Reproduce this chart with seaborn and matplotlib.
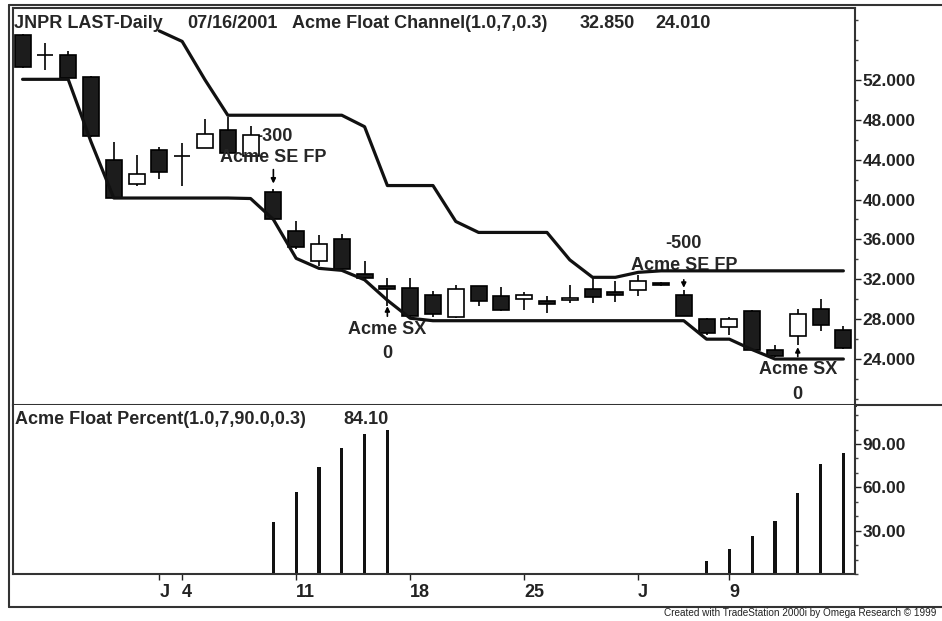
import numpy as np
import pandas as pd
import matplotlib
matplotlib.use("Agg")
import matplotlib.pyplot as plt
import seaborn as sns
from matplotlib.ticker import MultipleLocator, FormatStrFormatter
from matplotlib.lines import Line2D

# trading days shown on the chart (2001)
trade_days = ["05/23", "05/24", "05/25", "05/29", "05/30", "05/31", "06/01",
              "06/04", "06/05", "06/06", "06/07", "06/08",
              "06/11", "06/12", "06/13", "06/14", "06/15",
              "06/18", "06/19", "06/20", "06/21", "06/22",
              "06/25", "06/26", "06/27", "06/28", "06/29",
              "07/02", "07/03", "07/05", "07/06",
              "07/09", "07/10", "07/11", "07/12", "07/13", "07/16"]

open_ = [56.5, 54.5, 54.5, 52.3, 44.0, 41.6, 45.0, 44.4, 45.2, 47.0, 44.4,
         40.8, 36.8, 33.8, 36.0, 32.55, 31.35, 31.1, 30.45, 28.2, 31.3, 30.3,
         30.0, 29.8, 29.95, 31.05, 30.7, 30.95, 31.6, 30.45, 28.0, 27.25,
         28.8, 24.95, 26.3, 29.0, 26.95]
high = [56.6, 55.7, 54.9, 52.4, 45.8, 44.5, 45.3, 45.7, 48.05, 48.3, 47.4,
        41.1, 37.8, 36.45, 36.55, 33.85, 32.1, 32.1, 30.85, 31.45, 31.35, 31.2,
        30.7, 30.3, 31.45, 32.3, 31.8, 32.45, 31.7, 30.9, 28.1, 28.25,
        28.9, 25.45, 29.0, 30.0, 27.35]
low = [53.2, 53.0, 52.1, 46.3, 40.1, 41.4, 42.1, 41.4, 45.2, 44.6, 44.3,
       37.9, 35.0, 33.3, 32.9, 31.9, 29.3, 28.1, 28.2, 28.1, 29.35, 28.85,
       28.9, 28.6, 29.6, 29.6, 29.7, 30.3, 31.3, 28.3, 26.4, 26.4,
       24.9, 24.2, 25.4, 26.8, 25.0]
close = [53.3, 54.5, 52.2, 46.4, 40.2, 42.6, 42.8, 44.4, 46.55, 44.65, 46.5,
         38.0, 35.2, 35.55, 33.0, 32.1, 31.0, 28.3, 28.5, 31.05, 29.85, 28.9,
         30.45, 29.5, 30.1, 30.2, 30.45, 31.8, 31.4, 28.35, 26.6, 28.0,
         24.95, 24.3, 28.5, 27.45, 25.1]

upper_channel = [np.nan, np.nan, np.nan, np.nan, np.nan, np.nan, 56.9,
                 55.85, 52.0, 48.45, 48.45, 48.45, 48.45, 48.45, 48.45, 47.3,
                 41.4, 41.4, 41.4, 37.8, 36.7, 36.7, 36.7, 36.7, 33.95, 32.2,
                 32.2, 32.7, 32.85, 32.85, 32.85, 32.85, 32.85, 32.85, 32.85,
                 32.85, 32.85]
lower_channel = [52.05, 52.05, 52.05, 45.8, 40.15, 40.15, 40.15, 40.15, 40.15,
                 40.15, 40.1, 38.0, 34.1, 33.1, 32.9, 31.95, 29.9, 28.1, 27.85,
                 27.85, 27.85, 27.85, 27.85, 27.85, 27.85, 27.85, 27.85, 27.85,
                 27.85, 27.85, 26.0, 26.0, 24.95, 24.01, 24.01, 24.01, 24.01]

float_pct = [0, 0, 0, 0, 0, 0, 0, 0, 0, 0, 0,
             36, 57, 74, 87, 97, 100,
             0, 0, 0, 0, 0, 0, 0, 0, 0, 0, 0, 0, 0,
             9, 17, 26, 37, 56, 76, 84.1]

date_ticks = {"06/01": "J", "06/04": "4", "06/11": "11", "06/18": "18",
              "06/25": "25", "07/02": "J", "07/09": "9"}

df = pd.DataFrame({"day": trade_days, "open": open_, "high": high, "low": low,
                   "close": close, "upper": upper_channel,
                   "lower": lower_channel, "pct": float_pct})
df["i"] = np.arange(len(df))

sns.set_style("white")
plt.rcParams["font.family"] = ["Liberation Sans", "DejaVu Sans"]
plt.rcParams["font.weight"] = "bold"

W, H = 942, 621
fig = plt.figure(figsize=(W / 100, H / 100), dpi=100)
ax1 = fig.add_axes([13 / W, 1 - 405 / H, 842 / W, 397 / H])
ax2 = fig.add_axes([13 / W, 1 - 574 / H, 842 / W, 169 / H], sharex=ax1)

# candles
up = df["close"] >= df["open"]
body_lo = np.minimum(df["open"], df["close"])
body_h = (df["close"] - df["open"]).abs()
ax1.vlines(df["i"], df["low"], df["high"], color="black", lw=1.2, zorder=3)
ax1.bar(df["i"], body_h, bottom=body_lo, width=0.7,
        color=np.where(up, "white", "#1c1c1c"), edgecolor="black",
        linewidth=1.2, zorder=4)

# channel lines
sns.lineplot(data=df, x="i", y="upper", ax=ax1, color="#111111", lw=2.3,
             estimator=None, zorder=5)
sns.lineplot(data=df, x="i", y="lower", ax=ax1, color="#111111", lw=2.3,
             estimator=None, zorder=5)

# float percent bars
sns.barplot(data=df, x="i", y="pct", ax=ax2, native_scale=True, width=0.14,
            color="#111111", linewidth=0, errorbar=None, saturation=1)

# trade labels
fs = 13
ax1.text(10.24, 46.28, "-300", ha="left", va="center", fontsize=fs, zorder=2)
ax1.text(11.0, 44.18, "Acme SE FP", ha="center", va="center", fontsize=fs, zorder=6)
ax1.text(29.0, 35.55, "-500", ha="center", va="center", fontsize=fs, zorder=6)
ax1.text(29.0, 33.35, "Acme SE FP", ha="center", va="center", fontsize=fs, zorder=1)
ax1.text(16.0, 26.93, "Acme SX", ha="center", va="center", fontsize=fs, zorder=6)
ax1.text(16.0, 24.6, "0", ha="center", va="center", fontsize=fs, zorder=6)
ax1.text(34.0, 22.91, "Acme SX", ha="center", va="center", fontsize=fs, zorder=6)
ax1.text(34.0, 20.5, "0", ha="center", va="center", fontsize=fs, zorder=6)

arrows = [(11, 43.0, 41.6), (16, 28.3, 29.3), (29, 31.95, 31.15), (34, 24.25, 25.2)]
for xi, y0, y1 in arrows:
    ax1.annotate("", xy=(xi, y1), xytext=(xi, y0),
                 arrowprops=dict(arrowstyle="-|>", lw=1.2, color="black",
                                 mutation_scale=7, shrinkA=0, shrinkB=0),
                 zorder=6)

# axes setup
ax1.set_xlim(-0.42, 36.51)
ax1.set_ylim(19.4, 59.2)
ax2.set_ylim(0, 117)

for ax in (ax1, ax2):
    ax.set_xlabel("")
    ax.set_ylabel("")
    ax.yaxis.tick_right()
    ax.tick_params(axis="y", which="major", direction="out", length=4,
                   width=1, pad=1.5, labelsize=12.5, right=True, left=False,
                   colors="#222222")
    ax.tick_params(axis="y", which="minor", direction="out", length=2.5,
                   width=1, right=True, left=False, colors="#444444")
    for s in ax.spines.values():
        s.set_color("#333333")
        s.set_linewidth(1.5)

ax1.set_yticks(np.arange(24, 53, 4))
ax1.yaxis.set_minor_locator(MultipleLocator(2))
ax1.yaxis.set_major_formatter(FormatStrFormatter("%.3f"))
ax1.tick_params(axis="x", bottom=False, labelbottom=False)
ax1.spines["bottom"].set_linewidth(2.2)

ax2.set_yticks([30, 60, 90])
ax2.yaxis.set_minor_locator(MultipleLocator(10))
ax2.yaxis.set_major_formatter(FormatStrFormatter("%.2f"))
ax2.spines["top"].set_visible(False)

tick_pos = [trade_days.index(d) for d in date_ticks]
ax2.set_xticks(tick_pos)
ax2.set_xticklabels(list(date_ticks.values()))
ax2.tick_params(axis="x", direction="out", length=4, width=1, pad=3,
                labelsize=13, bottom=True, colors="#222222")
for lbl in ax2.get_xticklabels():
    lbl.set_horizontalalignment("left")
ax1.set_xlim(-0.42, 36.51)

# header texts
def ftext(px, py, s, **kw):
    fig.text(px / W, 1 - py / H, s, va="center", ha="left", **kw)

ftext(14, 24, "JNPR LAST-Daily", fontsize=13)
ftext(187, 24, "07/16/2001", fontsize=13)
ftext(292, 24, "Acme Float Channel(1.0,7,0.3)", fontsize=13)
ftext(580, 24, "32.850", fontsize=13)
ftext(655, 24, "24.010", fontsize=13)
ftext(15, 419, "Acme Float Percent(1.0,7,90.0,0.3)", fontsize=13)
ftext(343, 419, "84.10", fontsize=13)
ftext(664, 613, "Created with TradeStation 2000i by Omega Research \u00a9 1999",
      fontsize=7.2, fontweight="normal", color="#222222")

# outer frame
for (x0, y0, x1, y1) in [(9, 5, 942, 5), (9, 5, 9, 607), (9, 607, 942, 607),
                         (855, 405, 942, 405)]:
    fig.add_artist(Line2D([x0 / W, x1 / W], [1 - y0 / H, 1 - y1 / H],
                          color="#333333", lw=1.5))

fig.savefig("out.png", dpi=100)
